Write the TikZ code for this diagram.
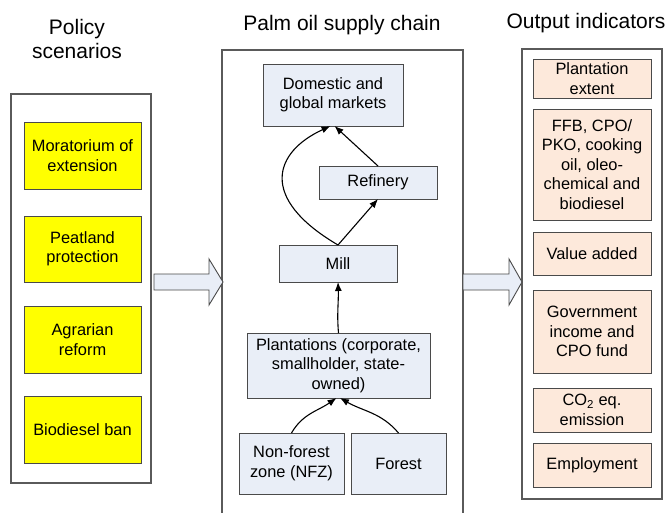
\documentclass[tikz,border=0pt]{standalone}
\usepackage{fontspec}
\setmainfont{Liberation Sans}
\usetikzlibrary{arrows.meta}
\definecolor{bluefill}{HTML}{E9EEF7}
\definecolor{orangefill}{HTML}{FDE9DB}
\definecolor{yellowfill}{HTML}{FFFF00}
\definecolor{boxline}{HTML}{4A4A4A}
\definecolor{outerline}{HTML}{5A5A5A}
\begin{document}
\begin{tikzpicture}[x=1pt,y=-1pt,
  every node/.style={inner sep=0pt, outer sep=0pt},
  bodytext/.style={font=\fontsize{16.4}{19.5}\selectfont, align=center},
  titletext/.style={font=\fontsize{21}{24}\selectfont, align=center},
  outerbox/.style={draw=outerline, line width=1.1pt},
  ybox/.style={bodytext, draw=boxline, line width=0.9pt, fill=yellowfill, minimum width=117pt},
  bbox/.style={bodytext, draw=boxline, line width=0.9pt, fill=bluefill},
  obox/.style={bodytext, draw=boxline, line width=0.9pt, fill=orangefill, minimum width=118pt},
  flow/.style={-{Latex[length=9pt,width=7pt]}, line width=1.1pt, black},
  bigarrow/.style={draw=boxline, line width=0.9pt, fill=bluefill, line join=miter}
]
\useasboundingbox (0,0) rectangle (666,513);
\fill[white] (0,0) rectangle (666,513);

% titles
\node[titletext] (t1) at (77,39) {Policy\\scenarios};
\node[titletext] (t2) at (342,25) {Palm oil supply chain};
\node[titletext] (t3) at (586,23) {Output indicators};

% outer frames
\draw[outerbox] (11,94) rectangle (151,483);
\begin{scope}
\clip (0,0) rectangle (666,513);
\draw[outerbox] (222,530) -- (222,50) -- (463,50) -- (463,530);
\end{scope}
\draw[outerbox] (522,49) rectangle (662,499);

% big arrows
\draw[bigarrow] (154,274) -- (209,274) -- (209,259) -- (223,282) -- (209,305) -- (209,290) -- (154,290) -- cycle;
\draw[bigarrow] (463,274) -- (509,274) -- (509,259) -- (522,282) -- (509,305) -- (509,290) -- (463,290) -- cycle;

% policy scenarios
\node[ybox, minimum height=67pt] (p1) at (82.5,155.5) {Moratorium of\\extension};
\node[ybox, minimum height=66pt] (p2) at (82.5,249) {Peatland\\protection};
\node[ybox, minimum height=67pt] (p3) at (82.5,339.5) {Agrarian\\reform};
\node[ybox, minimum height=67pt] (p4) at (82.5,429.5) {Biodiesel ban};

% supply chain
\node[bbox, minimum width=140pt, minimum height=62pt] (dom) at (333,95) {Domestic and\\global markets};
\node[bbox, minimum width=118pt, minimum height=33pt] (ref) at (378,182.5) {Refinery};
\node[bbox, minimum width=118pt, minimum height=37pt] (mill) at (338,263.5) {Mill};
\node[bbox, minimum width=183pt, minimum height=65pt] (plant) at (338.5,365.5) {Plantations (corporate,\\smallholder, state-\\owned)};
\node[bbox, minimum width=105pt, minimum height=61pt] (nfz) at (291.5,463.5) {Non-forest\\zone (NFZ)};
\node[bbox, minimum width=95pt, minimum height=61pt] (forest) at (398.5,463.5) {Forest};

\draw[flow] (mill.north) .. controls (258,198) and (274,152) .. ([xshift=-2.5pt]dom.south);
\draw[flow] (mill.north) -- (ref.south);
\draw[flow] (ref.north) -- ([xshift=1.5pt]dom.south);
\draw[flow] (plant.north) to[out=95,in=-88] (mill.south);
\draw[flow] (nfz.north) to[out=60,in=-145] ([xshift=-2pt]plant.south);
\draw[flow] (forest.north) to[out=130,in=-30] ([xshift=1.5pt]plant.south);

% output indicators
\node[obox, minimum height=39pt] (o1) at (592,78.5) {Plantation\\extent};
\node[obox, minimum height=111pt] (o2) at (592,164.5) {FFB, CPO/\\PKO, cooking\\oil, oleo-\\chemical and\\biodiesel};
\node[obox, minimum height=43pt] (o3) at (592,253.5) {Value added};
\node[obox, minimum height=83pt] (o4) at (592,331.5) {Government\\income and\\CPO fund};
\node[obox, minimum height=44pt] (o5) at (592,410) {CO\textsubscript{2} eq.\\emission};
\node[obox, minimum height=44pt] (o6) at (592,465) {Employment};
\end{tikzpicture}
\end{document}
